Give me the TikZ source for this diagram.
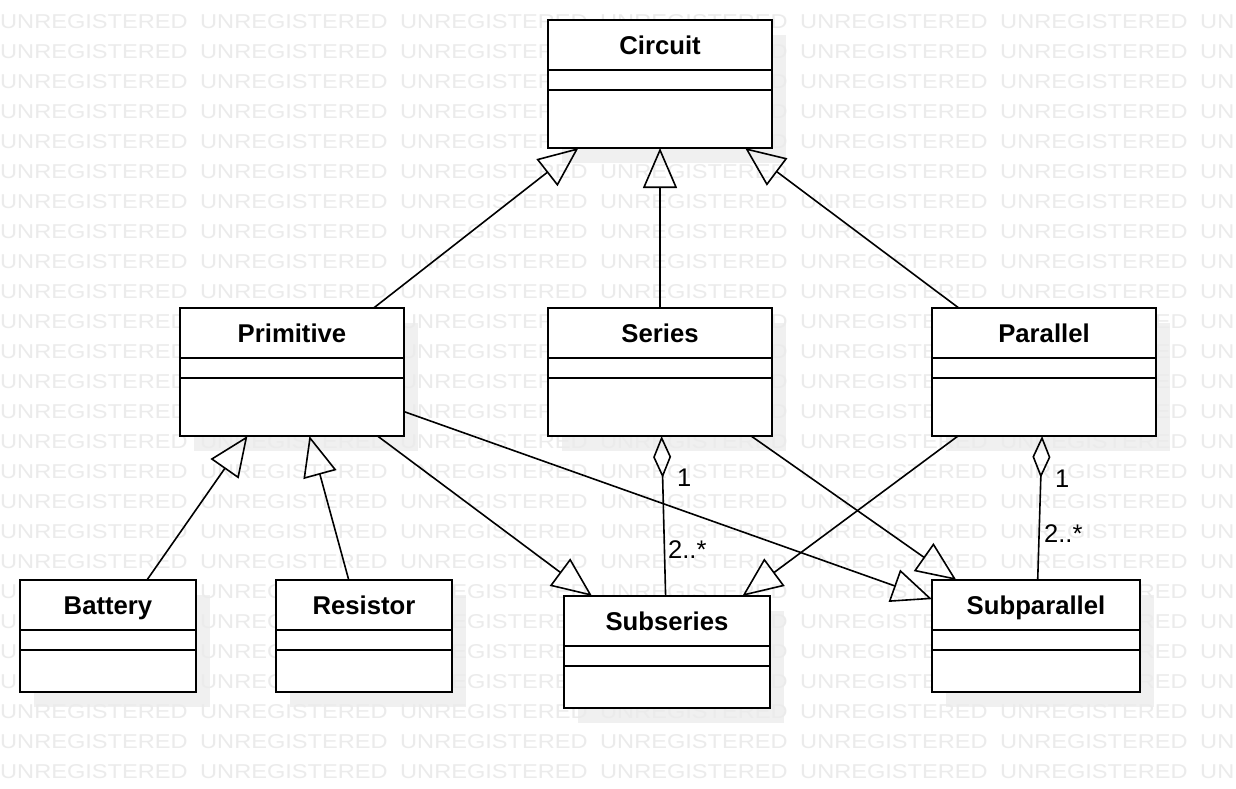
\documentclass[tikz,border=0pt]{standalone}
\usepackage{fontspec}
\usepackage{graphicx}
\setmainfont{Liberation Sans}
\usetikzlibrary{arrows.meta,calc}
\definecolor{wm}{HTML}{EBEBEB}
\definecolor{shadowc}{HTML}{F0F0F0}
\newcommand\umlshadow[4]{% cx, cy, w, h
  \fill[shadowc] ({#1-#3/2+14},{#2-#4/2+15}) rectangle ++(#3,#4);}
\newcommand\umlclass[6]{% name, label, cx, cy, w, h
  \node[cls, minimum width=#5pt, minimum height=#6pt] (#1) at (#3,#4) {};
  \node[clsname] (#1-name) at ([yshift=-34pt]#1.north) {#2};
  \draw[cline] ([yshift=-50pt]#1.north west) -- ([yshift=-50pt]#1.north east);
  \draw[cline] ([yshift=-70pt]#1.north west) -- ([yshift=-70pt]#1.north east);}
\begin{document}
\begin{tikzpicture}[x=1pt,y=-1pt,
  cls/.style={draw, rectangle, line width=2pt, fill=white, inner sep=0pt, outer sep=0pt},
  clsname/.style={font=\bfseries\fontsize{25.7}{30}\selectfont, inner sep=0pt, anchor=base},
  cline/.style={line width=2pt},
  edge/.style={line width=1.6pt},
  gen/.style={edge, -{Triangle[open, length=40pt, width=34pt, line width=1.6pt]}},
  agg/.style={edge, {Diamond[open, length=42pt, width=18pt, line width=1.6pt]}-},
  mult/.style={font=\fontsize{25.5}{30}\selectfont, inner sep=0pt, anchor=base west},
  wmtext/.style={font=\fontsize{20}{24}\selectfont, text=wm, inner sep=0pt, anchor=west}]
\fill[white] (0,0) rectangle (1236,788);
\useasboundingbox (0,0) rectangle (1236,788);
% shadows
\umlshadow{660}{84}{224}{128}
\umlshadow{292}{372}{224}{128}
\umlshadow{660}{372}{224}{128}
\umlshadow{1044}{372}{224}{128}
\umlshadow{108}{636}{176}{112}
\umlshadow{364}{636}{176}{112}
\umlshadow{667}{652}{206}{112}
\umlshadow{1036}{636}{208}{112}
% watermark
\foreach \r in {0,...,25}{
  \foreach \c in {0,...,6}{
    \node[wmtext] (wm-\r-\c) at ({200*\c},{22+30*\r}) {\scalebox{1.18}[1]{UNREGISTERED}};
  }
}
% classes
\umlclass{circuit}{Circuit}{660}{84}{224}{128}
\umlclass{primitive}{Primitive}{292}{372}{224}{128}
\umlclass{series}{Series}{660}{372}{224}{128}
\umlclass{parallel}{Parallel}{1044}{372}{224}{128}
\umlclass{battery}{Battery}{108}{636}{176}{112}
\umlclass{resistor}{Resistor}{364}{636}{176}{112}
\umlclass{subseries}{Subseries}{667}{652}{206}{112}
\umlclass{subparallel}{Subparallel}{1036}{636}{208}{112}
% generalizations
\draw[gen] (primitive) -- (circuit);
\draw[gen] (series) -- (circuit);
\draw[gen] (parallel) -- (circuit);
\draw[gen] (battery) -- (primitive);
\draw[gen] (resistor) -- (primitive);
\draw[gen] (primitive) -- (subseries);
\draw[gen] (primitive) -- (subparallel);
\draw[gen] (series) -- (subparallel);
\draw[gen] (parallel) -- (subseries);
% aggregations
\draw[agg] (series) -- (subseries);
\draw[agg] (parallel) -- (subparallel);
% multiplicities
\node[mult] (m1) at ([xshift=17pt,yshift=-50pt]series.south) {1};
\node[mult] (m2) at ([xshift=8pt,yshift=-122pt]series.south) {2..*};
\node[mult] (m3) at ([xshift=11pt,yshift=-51pt]parallel.south) {1};
\node[mult] (m4) at ([xshift=0pt,yshift=-106pt]parallel.south) {2..*};
\end{tikzpicture}
\end{document}
